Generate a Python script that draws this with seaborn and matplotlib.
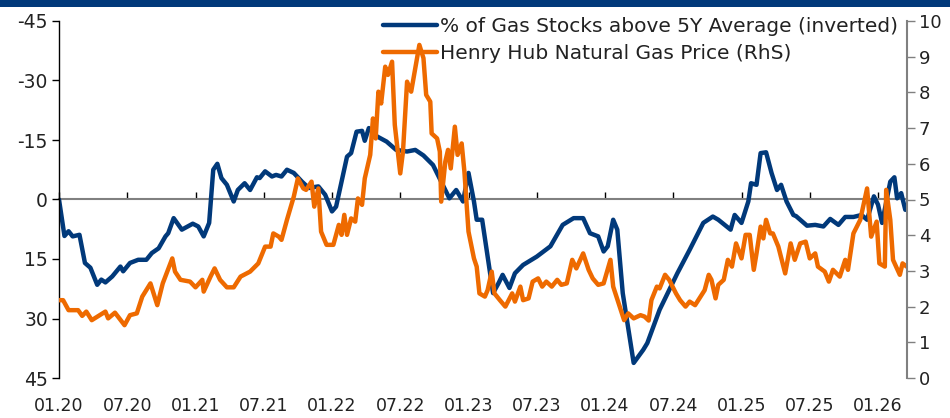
import numpy as np
import pandas as pd
import matplotlib
matplotlib.use("Agg")
import matplotlib.pyplot as plt
from matplotlib.patches import Rectangle
import seaborn as sns

# ------------------------------------------------------------------------------------------------
# DATA (time in decimal years).

stocks_t = [2020.00, 2020.04, 2020.07, 2020.10, 2020.15, 2020.19, 2020.23, 2020.28, 2020.31, 2020.34,
            2020.39, 2020.45, 2020.47, 2020.52, 2020.58, 2020.64, 2020.68, 2020.73, 2020.78, 2020.80,
            2020.84, 2020.90, 2020.98, 2021.02, 2021.06, 2021.10, 2021.13, 2021.16, 2021.19, 2021.23,
            2021.28, 2021.31, 2021.36, 2021.40, 2021.45, 2021.47, 2021.51, 2021.56, 2021.59, 2021.63,
            2021.67, 2021.72, 2021.78, 2021.83, 2021.90, 2021.95, 2022.00, 2022.03, 2022.07, 2022.11,
            2022.14, 2022.18, 2022.22, 2022.24, 2022.27, 2022.33, 2022.40, 2022.47, 2022.55, 2022.61,
            2022.67, 2022.74, 2022.80, 2022.86, 2022.91, 2022.96, 2023.00, 2023.04, 2023.06, 2023.10,
            2023.18, 2023.22, 2023.25, 2023.30, 2023.34, 2023.40, 2023.50, 2023.60, 2023.69, 2023.77,
            2023.84, 2023.89, 2023.95, 2023.99, 2024.02, 2024.06, 2024.09, 2024.13, 2024.21, 2024.28,
            2024.31, 2024.40, 2024.53, 2024.62, 2024.72, 2024.79, 2024.83, 2024.92, 2024.95, 2025.00,
            2025.05, 2025.07, 2025.11, 2025.14, 2025.18, 2025.22, 2025.26, 2025.29, 2025.33, 2025.38,
            2025.40, 2025.48, 2025.54, 2025.60, 2025.65, 2025.71, 2025.76, 2025.82, 2025.88, 2025.92,
            2025.97, 2026.00, 2026.03, 2026.09, 2026.12, 2026.14, 2026.17, 2026.20]
stocks_pct = [0.0, 9.2, 8.0, 9.3, 8.9, 16.0, 17.2, 21.5, 20.2, 20.9,
              19.4, 16.9, 18.1, 16.0, 15.2, 15.2, 13.5, 12.3, 9.3, 8.5,
              4.7, 7.6, 6.1, 6.8, 9.3, 5.9, -7.5, -9.0, -5.4, -3.7,
              0.5, -2.4, -4.1, -2.4, -5.6, -5.4, -7.1, -5.8, -6.2, -5.8,
              -7.5, -6.7, -4.5, -2.9, -3.3, -1.2, 3.0, 1.8, -4.5, -10.8,
              -11.7, -17.1, -17.3, -14.8, -18.0, -15.9, -14.6, -12.5, -12.1, -12.5,
              -11.1, -8.7, -4.5, -0.3, -2.4, 0.5, -6.7, 0.5, 5.1, 5.1,
              23.6, 21.1, 19.0, 22.3, 18.6, 16.5, 14.4, 11.8, 6.4, 4.7,
              4.7, 8.5, 9.3, 13.1, 11.8, 5.1, 7.6, 23.6, 41.2, 37.9,
              36.2, 27.8, 18.6, 12.7, 5.9, 4.3, 5.1, 7.6, 3.9, 5.9,
              0.5, -4.1, -3.7, -11.7, -11.9, -6.7, -2.4, -3.7, 0.5, 3.9,
              4.2, 6.6, 6.4, 6.8, 4.9, 6.4, 4.4, 4.4, 3.9, 5.1,
              -0.8, 1.3, 5.9, -4.5, -5.6, -0.3, -1.6, 2.6]

henry_t = [2020.00, 2020.03, 2020.07, 2020.14, 2020.17, 2020.20, 2020.24, 2020.34, 2020.36, 2020.41,
           2020.48, 2020.52, 2020.57, 2020.61, 2020.67, 2020.72, 2020.76, 2020.83, 2020.85, 2020.89,
           2020.96, 2021.00, 2021.05, 2021.06, 2021.11, 2021.14, 2021.18, 2021.23, 2021.28, 2021.33,
           2021.40, 2021.46, 2021.51, 2021.55, 2021.57, 2021.61, 2021.63, 2021.67, 2021.72, 2021.75,
           2021.79, 2021.81, 2021.85, 2021.87, 2021.90, 2021.92, 2021.96, 2022.01, 2022.05, 2022.07,
           2022.09, 2022.11, 2022.14, 2022.17, 2022.19, 2022.22, 2022.24, 2022.28, 2022.30, 2022.32,
           2022.34, 2022.36, 2022.39, 2022.41, 2022.44, 2022.46, 2022.50, 2022.52, 2022.55, 2022.58,
           2022.61, 2022.64, 2022.67, 2022.69, 2022.72, 2022.73, 2022.77, 2022.79, 2022.80, 2022.83,
           2022.85, 2022.87, 2022.90, 2022.92, 2022.95, 2022.97, 2023.00, 2023.04, 2023.06, 2023.08,
           2023.12, 2023.14, 2023.17, 2023.19, 2023.23, 2023.27, 2023.32, 2023.34, 2023.38, 2023.40,
           2023.44, 2023.47, 2023.51, 2023.54, 2023.57, 2023.61, 2023.65, 2023.68, 2023.72, 2023.76,
           2023.79, 2023.84, 2023.88, 2023.91, 2023.95, 2023.99, 2024.04, 2024.06, 2024.10, 2024.14,
           2024.17, 2024.21, 2024.26, 2024.29, 2024.32, 2024.34, 2024.38, 2024.40, 2024.44, 2024.47,
           2024.52, 2024.55, 2024.59, 2024.62, 2024.66, 2024.70, 2024.73, 2024.76, 2024.78, 2024.81,
           2024.83, 2024.87, 2024.90, 2024.93, 2024.96, 2025.00, 2025.03, 2025.06, 2025.09, 2025.11,
           2025.14, 2025.16, 2025.18, 2025.21, 2025.23, 2025.27, 2025.32, 2025.36, 2025.39, 2025.43,
           2025.47, 2025.50, 2025.54, 2025.56, 2025.61, 2025.64, 2025.67, 2025.72, 2025.76, 2025.78,
           2025.82, 2025.87, 2025.92, 2025.95, 2025.99, 2026.01, 2026.05, 2026.06, 2026.09, 2026.11,
           2026.16, 2026.18, 2026.21]
henry_price = [2.18, 2.18, 1.90, 1.90, 1.74, 1.86, 1.62, 1.86, 1.67, 1.83,
               1.48, 1.76, 1.81, 2.28, 2.65, 2.04, 2.65, 3.35, 2.98, 2.75,
               2.70, 2.54, 2.75, 2.42, 2.84, 3.07, 2.75, 2.54, 2.54, 2.84,
               2.98, 3.21, 3.68, 3.68, 4.05, 3.96, 3.87, 4.43, 5.08, 5.59,
               5.31, 5.27, 5.50, 4.80, 5.31, 4.10, 3.73, 3.73, 4.29, 4.01,
               4.57, 4.01, 4.47, 4.38, 5.03, 4.85, 5.59, 6.25, 7.27, 6.71,
               8.02, 7.69, 8.72, 8.49, 8.86, 7.09, 5.73, 6.34, 8.30, 8.02,
               8.68, 9.33, 8.96, 7.93, 7.74, 6.85, 6.71, 6.34, 4.94, 6.06,
               6.39, 5.87, 7.04, 6.25, 6.57, 5.78, 4.10, 3.35, 3.12, 2.37,
               2.28, 2.46, 2.98, 2.37, 2.18, 2.00, 2.37, 2.14, 2.56, 2.18,
               2.23, 2.70, 2.79, 2.56, 2.70, 2.56, 2.75, 2.61, 2.65, 3.31,
               3.07, 3.49, 3.03, 2.79, 2.61, 2.65, 3.31, 2.56, 2.09, 1.62,
               1.81, 1.67, 1.76, 1.72, 1.61, 2.18, 2.56, 2.51, 2.89, 2.75,
               2.37, 2.18, 2.00, 2.14, 2.04, 2.28, 2.46, 2.89, 2.75, 2.23,
               2.61, 2.75, 3.31, 3.12, 3.77, 3.35, 4.01, 4.01, 3.03, 3.49,
               4.24, 3.91, 4.43, 4.05, 4.05, 3.68, 2.93, 3.77, 3.31, 3.77,
               3.82, 3.35, 3.49, 3.12, 2.98, 2.70, 3.03, 2.84, 3.31, 3.03,
               4.05, 4.43, 5.31, 3.96, 4.38, 3.21, 3.12, 5.27, 4.43, 3.31,
               2.89, 3.21, 3.12]

tick_pos = [2020.0 + 0.5 * i for i in range(13)]
tick_labels = ["01.20", "07.20", "01.21", "07.21", "01.22", "07.22", "01.23",
               "07.23", "01.24", "07.24", "01.25", "07.25", "01.26"]

left_ticks = [-45, -30, -15, 0, 15, 30, 45]
right_ticks = list(range(0, 11))

label_stocks = "% of Gas Stocks above 5Y Average (inverted)"
label_henry = "Henry Hub Natural Gas Price (RhS)"

# ------------------------------------------------------------------------------------------------
# STYLE.

sns.set_style("white")
plt.rcParams["font.family"] = ["DejaVu Sans"]
plt.rcParams["axes.unicode_minus"] = False

BLUE = "#01397A"
ORANGE = "#EE6A00"
GREY = "#808080"
TEXT = "#222222"

fig = plt.figure(figsize=(9.5, 4.18), dpi=100)
ax = fig.add_axes([59 / 950, 1 - 378 / 418, (907 - 59) / 950, (378 - 21) / 418])
ax2 = ax.twinx()

# top banner
fig.patches.append(Rectangle((0, 1 - 7 / 418), 1, 7 / 418, transform=fig.transFigure,
                             facecolor=BLUE, edgecolor="none"))

# ------------------------------------------------------------------------------------------------
# LINES.

sns.lineplot(x=stocks_t, y=stocks_pct, ax=ax, color=BLUE, linewidth=3.2,
             estimator=None, label=label_stocks, legend=False)
sns.lineplot(x=henry_t, y=henry_price, ax=ax2, color=ORANGE, linewidth=3.2,
             estimator=None, label=label_henry, legend=False)

# ------------------------------------------------------------------------------------------------
# AXES.

ax.set_xlim(2020.0, 2020 + (907 - 59) / 136.5)
ax.set_ylim(45, -45)
ax.set_yticks(left_ticks)
ax.set_yticklabels([str(v) for v in left_ticks])
ax.set_xticks(tick_pos)
ax.set_xticklabels(tick_labels)
ax.tick_params(axis="x", length=0, pad=14, labelsize=12.5, colors=TEXT)
ax.tick_params(axis="y", direction="out", length=5, width=1, pad=3, labelsize=13.5,
               colors="black", labelcolor=TEXT, left=True)

ax2.set_ylim(0, 10)
ax2.set_yticks(right_ticks)
ax2.tick_params(axis="y", direction="out", length=5.5, width=1, pad=3, labelsize=13,
                colors=GREY, labelcolor=TEXT, right=True)

for a in (ax, ax2):
    a.spines["top"].set_visible(False)
    a.spines["bottom"].set_visible(False)
    a.set_xlabel("")
    a.set_ylabel("")
ax.spines["left"].set_color("black")
ax.spines["left"].set_linewidth(1.0)
ax.spines["right"].set_visible(False)
ax2.spines["left"].set_visible(False)
ax2.spines["right"].set_color(GREY)
ax2.spines["right"].set_linewidth(1.5)

# zero line with the date ticks sitting on it
secax = ax.secondary_xaxis(0.5)
secax.set_xticks(tick_pos)
secax.tick_params(axis="x", direction="out", length=5, width=1, colors="black",
                  labeltop=False, labelbottom=False)
secax.spines["top"].set_color(GREY)
secax.spines["top"].set_linewidth(1.5)
secax.spines["bottom"].set_visible(False)

# ------------------------------------------------------------------------------------------------
# LEGEND.

h1, l1 = ax.get_legend_handles_labels()
h2, l2 = ax2.get_legend_handles_labels()
leg = ax2.legend(h1 + h2, l1 + l2, loc="upper right", bbox_to_anchor=(0.999, 1.035),
                 frameon=False, fontsize=14.5, handlelength=2.7, handletextpad=0.15,
                 labelspacing=0.42, borderaxespad=0)
for t in leg.get_texts():
    t.set_color(TEXT)
for line in leg.get_lines():
    line.set_linewidth(3.2)

fig.savefig("out.png", dpi=100)
